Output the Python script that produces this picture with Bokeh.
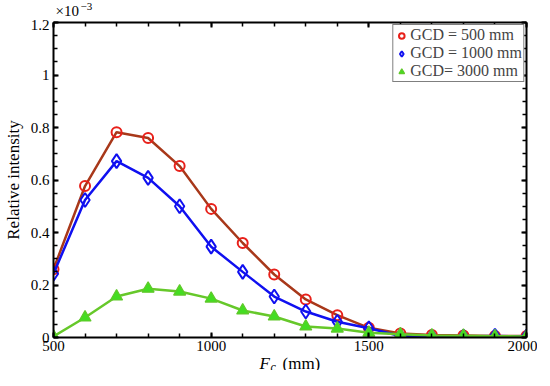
import math
from bokeh.plotting import figure
from bokeh.models import Range1d, LinearAxis, FixedTicker
from bokeh.layouts import column
from bokeh.core.properties import value
from bokeh.embed import file_html
from bokeh.resources import INLINE

fc = [500, 600, 700, 800, 900, 1000, 1100, 1200, 1300, 1400, 1500, 1600, 1700, 1800, 1900, 2000]
gcd500 = [0.26, 0.577, 0.782, 0.76, 0.653, 0.49, 0.36, 0.24, 0.145, 0.085, 0.037, 0.015, 0.010, 0.008, 0.006, 0.006]
gcd1000 = [0.243, 0.524, 0.672, 0.608, 0.50, 0.346, 0.25, 0.156, 0.099, 0.06, 0.035, 0.006, 0.004, 0.004, 0.006, 0.004]
gcd3000 = [0.004, 0.076, 0.156, 0.186, 0.175, 0.148, 0.103, 0.08, 0.042, 0.034, 0.018, 0.012, 0.008, 0.007, 0.005, 0.004]
xticks = [500, 1000, 1500, 2000]
yticks = [0, 0.2, 0.4, 0.6, 0.8, 1.0, 1.2]
ytick_labels = ["0", "0.2", "0.4", "0.6", "0.8", "1", "1.2"]
series_names = ["GCD = 500 mm", "GCD = 1000 mm", "GCD= 3000 mm"]

FONT = "Liberation Serif"

x_minor = [500 + 100 * i for i in range(16)]
y_minor = [round(0.05 * i, 3) for i in range(25)]

FRAME_L = 50
FRAME_W = 473
TOP_H = 19
XLAB_H = 13


def text_fig(h):
    # column layouts align frames: the text strip's frame sits under the main frame
    f = figure(title=None, frame_width=FRAME_W, frame_height=h, output_backend="svg",
               toolbar_location=None,
               x_range=Range1d(FRAME_L, FRAME_L + FRAME_W), y_range=Range1d(0, h),
               x_axis_type=None, y_axis_type=None,
               min_border_left=0, min_border_right=0, min_border_top=0, min_border_bottom=0)
    f.outline_line_color = None
    return f


p = figure(title=None, frame_width=FRAME_W, frame_height=315, output_backend="svg",
           toolbar_location=None,
           x_range=Range1d(500, 2000), y_range=Range1d(0, 1.2),
           min_border_left=FRAME_L, min_border_right=11, min_border_top=3, min_border_bottom=20)
p.xgrid.visible = False
p.ygrid.visible = False
p.outline_line_color = None


def style(ax, labels=True):
    ax.axis_line_width = 2
    ax.axis_line_color = "black"
    ax.major_tick_in = 5
    ax.major_tick_out = 0
    ax.minor_tick_in = 4
    ax.minor_tick_out = 0
    ax.major_tick_line_width = 2
    ax.minor_tick_line_width = 1.5
    ax.major_label_text_font = FONT
    ax.major_label_text_font_size = "15px" if labels else "0px"
    ax.major_label_text_color = "black"
    ax.major_label_standoff = 3 if labels else 0


p.xaxis.ticker = FixedTicker(ticks=xticks, minor_ticks=x_minor)
p.yaxis.ticker = FixedTicker(ticks=yticks, minor_ticks=y_minor)
p.yaxis.major_label_overrides = {t: s for t, s in zip(yticks, ytick_labels)}
style(p.xaxis[0])
style(p.yaxis[0])
p.yaxis.major_label_standoff = 4
p.yaxis.axis_label = "Relative intensity"
p.yaxis.axis_label_text_font = FONT
p.yaxis.axis_label_text_font_style = "normal"
p.yaxis.axis_label_text_font_size = "17px"
p.yaxis.axis_label_text_color = "black"
p.yaxis.axis_label_standoff = 5

top = LinearAxis(ticker=FixedTicker(ticks=xticks, minor_ticks=x_minor))
right = LinearAxis(ticker=FixedTicker(ticks=yticks, minor_ticks=y_minor))
style(top, False)
style(right, False)
p.add_layout(top, "above")
p.add_layout(right, "right")

# series
p.line(fc, gcd500, line_color="#a8381a", line_width=2.5)
p.scatter(fc, gcd500, marker="circle", size=10, line_color="#e8201a", fill_color="white",
          fill_alpha=0.0, line_width=2, legend_label=series_names[0])
p.line(fc, gcd1000, line_color="#1010f0", line_width=2.5)
p.scatter(fc, gcd1000, marker="diamond", size=14, line_color="#1010f0", fill_color="white",
          fill_alpha=0.0, line_width=2, legend_label=series_names[1])
p.line(fc, gcd3000, line_color="#66c82a", line_width=2.5)
p.scatter(fc, gcd3000, marker="triangle", size=12, line_color="#60c82a", fill_color="#44dd22",
          line_width=1.2, legend_label=series_names[2])

lg = p.legend[0]
lg.location = "top_right"
lg.margin = 2
lg.padding = 1
lg.spacing = 0
lg.label_text_font = FONT
lg.label_text_font_size = "16px"
lg.label_height = 17
lg.glyph_width = 14
lg.glyph_height = 17
lg.label_standoff = 2
lg.border_line_color = "black"
lg.border_line_width = 1.5
lg.background_fill_alpha = 1.0

# exponent above the y axis (x in page pixels)
topf = text_fig(TOP_H)
topf.text(x=[52], y=[9], text=["×10"], text_font=value(FONT), text_font_size="15px",
          text_baseline="middle", text_color="black")
topf.text(x=[77], y=[13], text=["−3"], text_font=value(FONT), text_font_size="11px",
          text_baseline="middle", text_color="black")

# x axis title
xf = text_fig(XLAB_H)
xf.text(x=[256], y=[7], text=["F"], text_font=value(FONT), text_font_style="italic",
        text_font_size="17px", text_baseline="middle", text_color="black")
xf.text(x=[267], y=[4], text=["c"], text_font=value(FONT), text_font_style="italic",
        text_font_size="12px", text_baseline="middle", text_color="black")
xf.text(x=[279], y=[7], text=["(mm)"], text_font=value(FONT),
        text_font_size="17px", text_baseline="middle", text_color="black")

layout = column(topf, p, xf, spacing=0)

open("out.html", "w").write(file_html(layout, INLINE))
